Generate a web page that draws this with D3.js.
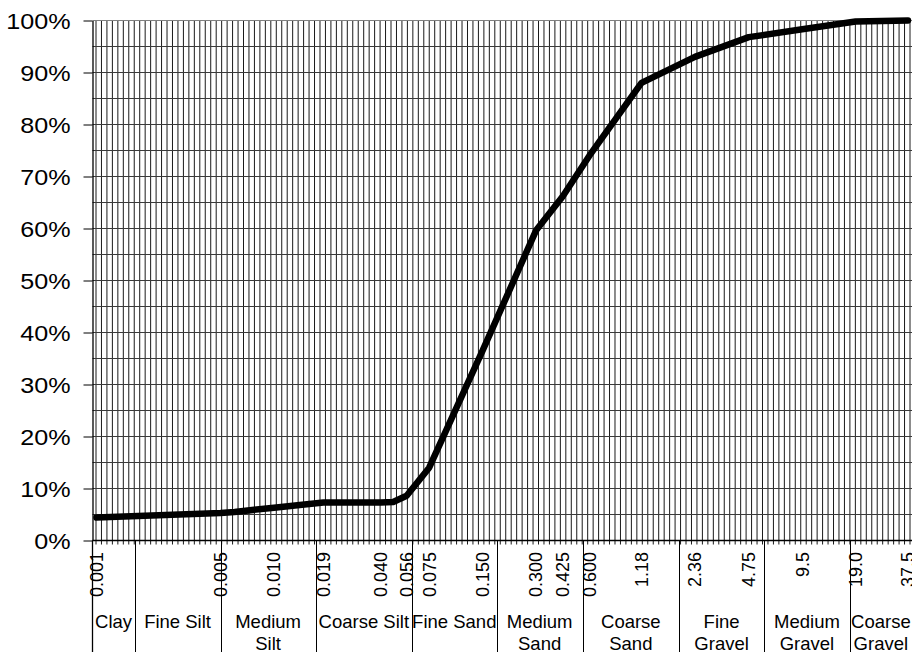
<!DOCTYPE html>
<html>
<head>
<meta charset="utf-8">
<script src="https://cdn.jsdelivr.net/npm/d3@7"></script>
<style>
  html, body { margin: 0; padding: 0; background: #fff; overflow: hidden; }
  svg { display: block; font-family: "Liberation Sans", Arial, sans-serif; }
</style>
</head>
<body>
<svg id="chart" width="912" height="652"></svg>
<script>
// ---- data ----
const sieveSizes   = [0.001, 0.005, 0.006, 0.010, 0.019, 0.040, 0.047, 0.056, 0.075, 0.150, 0.300, 0.425, 0.600, 1.18, 2.36, 4.75, 9.5, 19.0, 37.5];
const percentPass  = [4.4,   5.3,   5.5,   6.3,   7.3,   7.3,   7.4,   8.6,   14.0,  36.5,  59.6,  66.2,  74.0,  88.0, 93.0, 96.8, 98.3, 99.8, 100];
const tickSizes    = [0.001, 0.005, 0.010, 0.019, 0.040, 0.056, 0.075, 0.150, 0.300, 0.425, 0.600, 1.18, 2.36, 4.75, 9.5, 19.0, 37.5];
const tickLabels   = ["0.001","0.005","0.010","0.019","0.040","0.056","0.075","0.150","0.300","0.425","0.600","1.18","2.36","4.75","9.5","19.0","37.5"];
const zoneEdges    = [0.00164, 0.005, 0.0172, 0.06, 0.18, 0.55, 1.92, 5.8, 17.6];
const zoneNames    = [["Clay"],["Fine Silt"],["Medium","Silt"],["Coarse Silt"],["Fine Sand"],["Medium","Sand"],["Coarse","Sand"],["Fine","Gravel"],["Medium","Gravel"],["Coarse","Gravel"]];
const yTicks       = [0,10,20,30,40,50,60,70,80,90,100];
const yGrid        = d3.range(0, 101, 5);
const gridCount    = 150;

// ---- layout ----
const W = 912, H = 652;
const plotLeft = 92.5, plotRight = 912, plotTop = 20.5, plotBottom = 540.5;
const svg = d3.select("#chart");

const x = d3.scaleLog().domain([0.001, 37.5]).range([96.5, 908]);
const y = d3.scaleLinear().domain([0, 100]).range([plotBottom, plotTop]);
const gx = d3.scaleLinear().domain([0, gridCount - 1]).range([96, 910]);

// vertical gridlines
svg.append("g").selectAll("line").data(d3.range(gridCount)).join("line")
  .attr("x1", d => gx(d)).attr("x2", d => gx(d))
  .attr("y1", plotTop).attr("y2", plotBottom + 4)
  .attr("stroke", "#1a1a1a").attr("stroke-width", 1);

// horizontal gridlines
svg.append("g").selectAll("line").data(yGrid).join("line")
  .attr("x1", plotLeft).attr("x2", plotRight)
  .attr("y1", d => y(d)).attr("y2", d => y(d))
  .attr("stroke", d => d === 100 ? "#808080" : "#3a3a3a").attr("stroke-width", 1);

// y axis
const ySx = 1.17;
const yAxis = d3.axisLeft(y).tickValues(yTicks).tickFormat(d => d + "%").tickSize(9).tickSizeOuter(0);
const ya = svg.append("g").attr("transform", `translate(${plotLeft},0)`).call(yAxis);
ya.select(".domain").attr("stroke", "#000").attr("stroke-width", 1.3);
ya.selectAll(".tick line").attr("stroke", "#000");
ya.selectAll(".tick text").attr("font-size", 21.5).attr("font-family", "Liberation Sans, Arial, sans-serif")
  .attr("fill", "#000").attr("x", -22 / ySx).attr("dy", "0.36em")
  .attr("transform", `scale(${ySx},1)`);

// x axis baseline
svg.append("line").attr("x1", plotLeft).attr("x2", plotRight)
  .attr("y1", plotBottom).attr("y2", plotBottom).attr("stroke", "#000").attr("stroke-width", 1.3);

// zone boundary lines (including left edge)
svg.append("g").selectAll("line").data(zoneEdges).join("line")
  .attr("x1", d => Math.round(x(d)) + 0.5).attr("x2", d => Math.round(x(d)) + 0.5)
  .attr("y1", plotBottom).attr("y2", H)
  .attr("stroke", "#000").attr("stroke-width", 1);
svg.append("line").attr("x1", plotLeft).attr("x2", plotLeft)
  .attr("y1", plotBottom).attr("y2", H).attr("stroke", "#000").attr("stroke-width", 1.3);

// tick labels (rotated)
svg.append("g").selectAll("text").data(tickSizes).join("text")
  .attr("transform", d => `translate(${x(d)},552) rotate(-90)`)
  .attr("text-anchor", "end").attr("dy", "0.36em")
  .attr("font-size", 18).attr("fill", "#000")
  .text((d, i) => tickLabels[i]);

// zone labels
const zoneBounds = [x.invert(plotLeft)].concat(zoneEdges, [x.invert(plotRight)]);
const zl = svg.append("g").selectAll("text").data(zoneNames).join("text")
  .attr("x", (d, i) => (x(zoneBounds[i]) + x(zoneBounds[i + 1])) / 2)
  .attr("y", 628).attr("text-anchor", "middle").attr("font-size", 18.5).attr("fill", "#000");
zl.selectAll("tspan").data(d => d).join("tspan")
  .attr("x", function() { return this.parentNode.getAttribute("x"); })
  .attr("dy", (d, i) => i === 0 ? 0 : 21.6)
  .text(d => d);

// curve
const pts = sieveSizes.map((s, i) => [s, percentPass[i]]);
svg.append("path").datum(pts)
  .attr("d", d3.line().x(d => x(d[0])).y(d => y(d[1])))
  .attr("fill", "none").attr("stroke", "#000").attr("stroke-width", 6.5)
  .attr("stroke-linejoin", "round").attr("stroke-linecap", "round");
</script>
</body>
</html>
